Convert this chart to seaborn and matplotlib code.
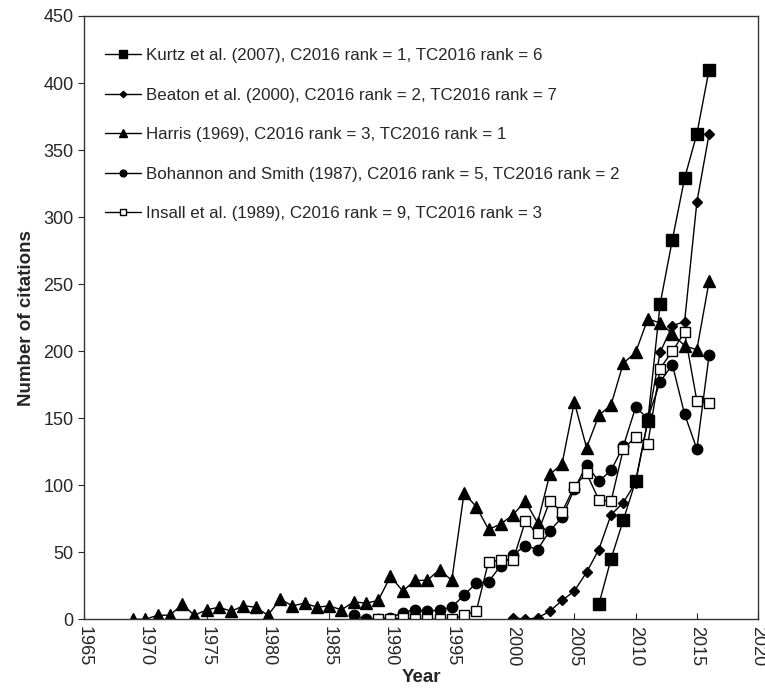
import matplotlib
matplotlib.use("Agg")
import matplotlib.pyplot as plt
import seaborn as sns
import pandas as pd

# citation counts per year
kurtz_years = list(range(2007, 2017))
kurtz = [11, 45, 74, 103, 148, 235, 283, 329, 362, 410]

beaton_years = list(range(2000, 2017))
beaton = [1, 0, 1, 6, 14, 21, 35, 52, 78, 87, 102, 148, 199, 219, 222, 311, 362]

harris_years = list(range(1969, 2017))
harris = [0, 0, 3, 3, 11, 3, 7, 9, 6, 10, 9, 3, 15, 10, 12, 9, 10, 7, 13, 12,
          14, 32, 21, 29, 29, 37, 29, 94, 84, 67, 71, 78, 88, 72, 108, 116,
          162, 128, 152, 160, 191, 199, 224, 221, 213, 204, 201, 252]

bohannon_years = list(range(1987, 2017))
bohannon = [3, 0, 0, 1, 5, 7, 6, 7, 9, 18, 27, 28, 40, 48, 55, 52, 66, 76,
            97, 115, 103, 111, 129, 158, 150, 177, 190, 153, 127, 197]

insall_years = list(range(1989, 2017))
insall = [0, 0, 1, 0, 0, 0, 0, 3, 6, 43, 44, 44, 73, 64, 88, 80, 99, 109,
          89, 88, 127, 136, 131, 187, 200, 214, 163, 161]

labels = [
    "Kurtz et al. (2007), C2016 rank = 1, TC2016 rank = 6",
    "Beaton et al. (2000), C2016 rank = 2, TC2016 rank = 7",
    "Harris (1969), C2016 rank = 3, TC2016 rank = 1",
    "Bohannon and Smith (1987), C2016 rank = 5, TC2016 rank = 2",
    "Insall et al. (1989), C2016 rank = 9, TC2016 rank = 3",
]

series = [
    (kurtz_years, kurtz, "s", 8, "black"),
    (beaton_years, beaton, "D", 5, "black"),
    (harris_years, harris, "^", 8, "black"),
    (bohannon_years, bohannon, "o", 7.5, "black"),
    (insall_years, insall, "s", 7.5, "white"),
]

sns.set_style("ticks")
plt.rcParams["font.family"] = ["Liberation Sans", "DejaVu Sans"]

fig = plt.figure(figsize=(7.65, 6.95), dpi=100)
ax = fig.add_axes([0.110, 0.109, 0.881, 0.868])

for (yrs, vals, mk, ms, fc), lab in zip(series, labels):
    df = pd.DataFrame({"Year": yrs, "Citations": vals})
    sns.lineplot(data=df, x="Year", y="Citations", ax=ax, color="black",
                 linewidth=1.0, marker=mk, markersize=ms, markerfacecolor=fc,
                 markeredgecolor="black", markeredgewidth=1.0, label=lab)

ax.set_xlim(1965, 2020)
ax.set_ylim(0, 450)
ax.set_xticks(range(1965, 2021, 5))
ax.set_yticks(range(0, 451, 50))
ax.tick_params(axis="x", direction="in", labelsize=13, rotation=270, length=4, pad=5)
ax.tick_params(axis="y", direction="out", labelsize=13, length=4)
for sp in ax.spines.values():
    sp.set_visible(True)
    sp.set_color("#333333")
    sp.set_linewidth(1.0)

ax.set_xlabel("Year", fontsize=13.5, fontweight="bold", labelpad=2)
ax.set_ylabel("Number of citations", fontsize=13.5, fontweight="bold", labelpad=6)

ax.legend(loc="upper left", frameon=False, fontsize=12.2, markerscale=0.65,
          handlelength=2.1, labelspacing=1.45, handletextpad=0.3,
          bbox_to_anchor=(0.009, 0.972))

fig.savefig("out.png", dpi=100)
